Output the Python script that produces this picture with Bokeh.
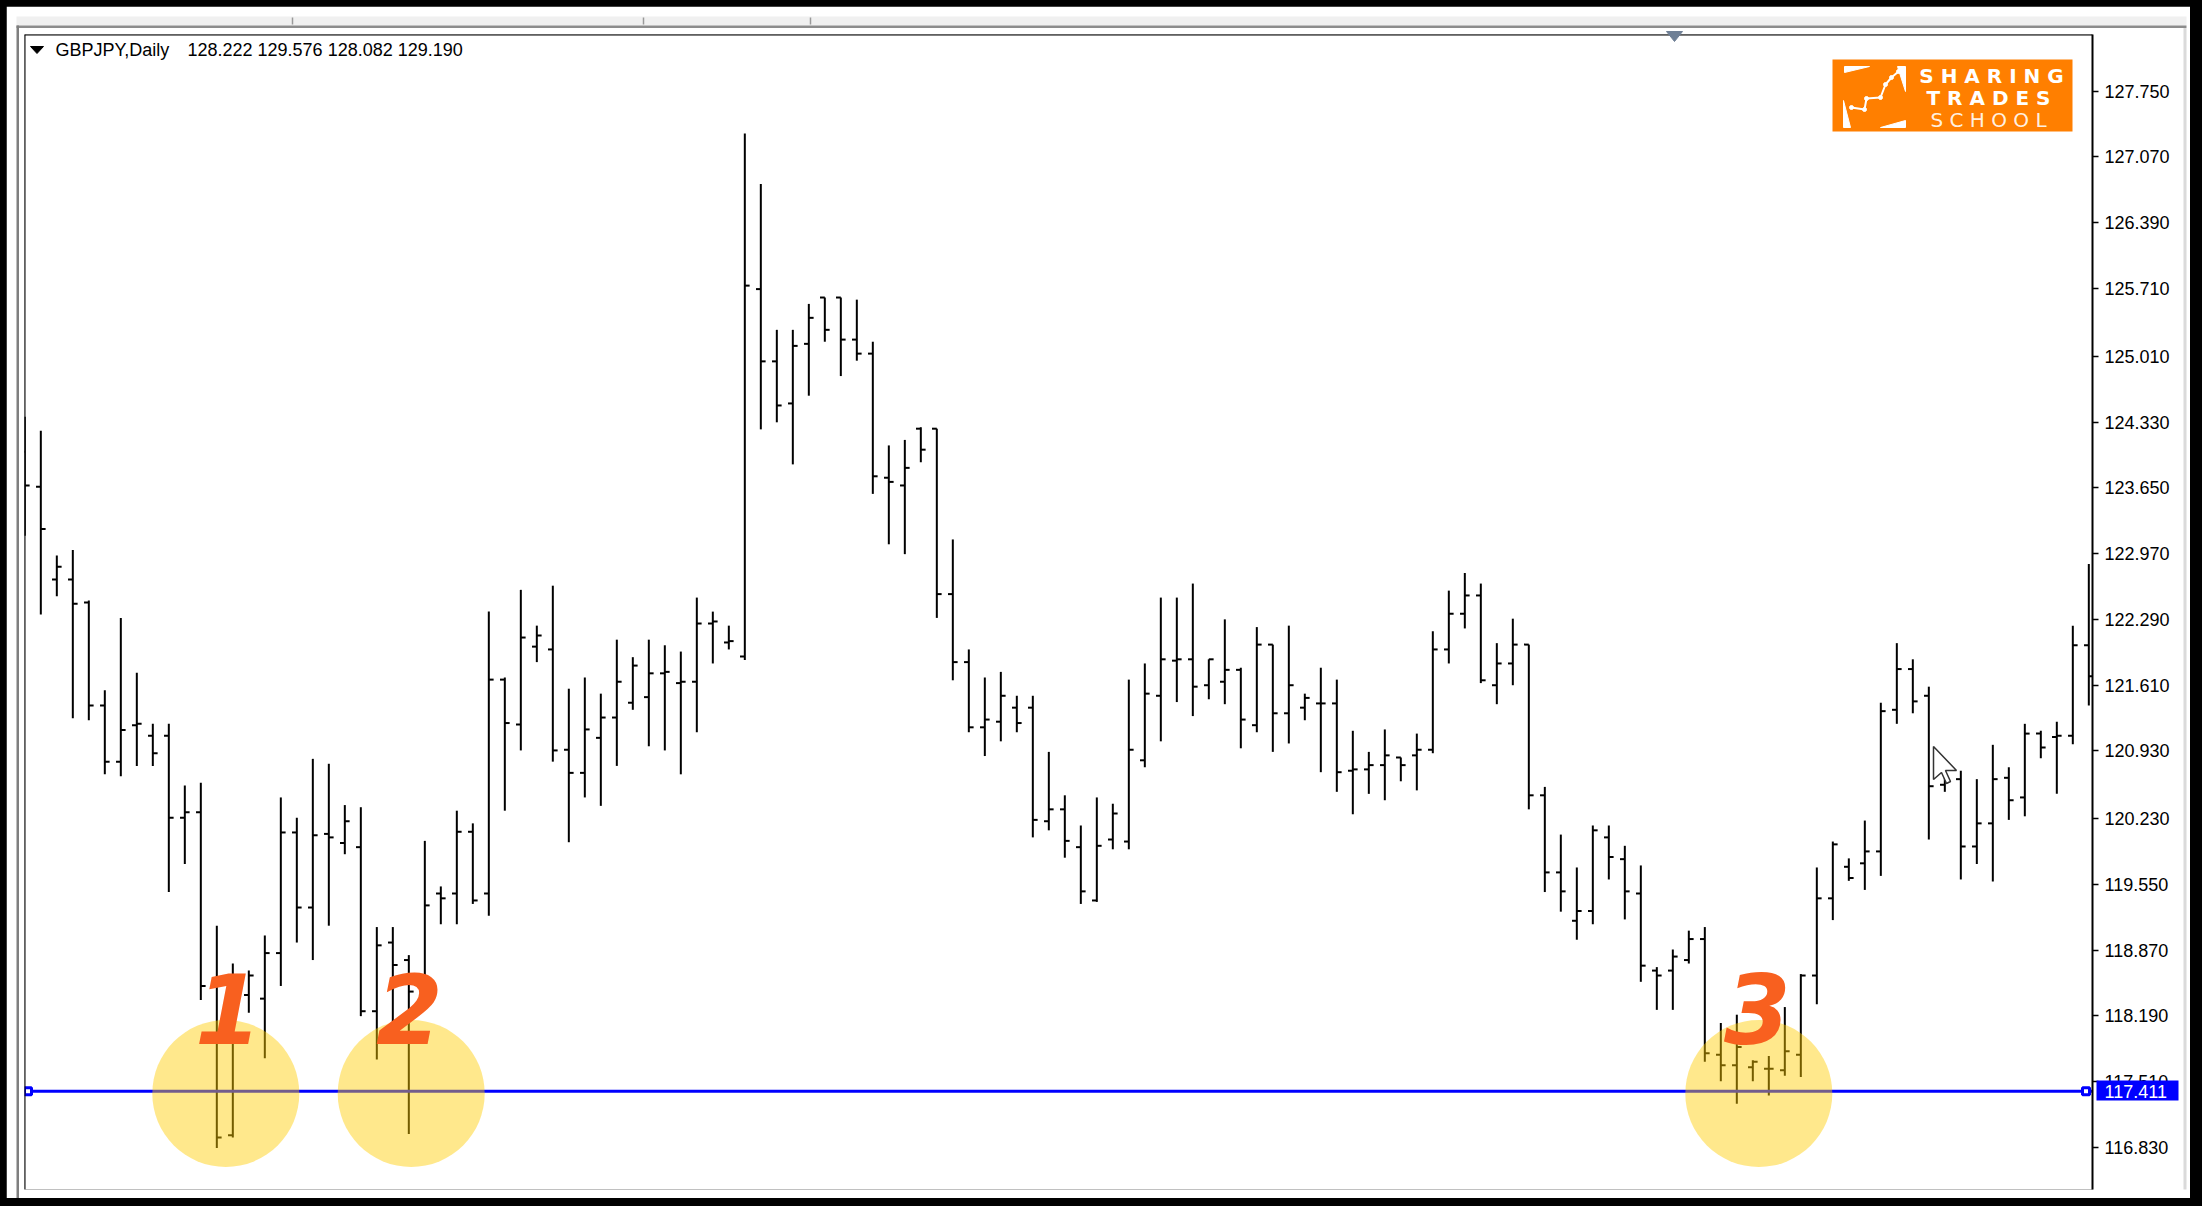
import numpy as np
from bokeh.plotting import figure
from bokeh.layouts import column
from bokeh.models import (FixedTicker, PrintfTickFormatter, Label, Span,
                          ColumnDataSource, Range1d, GlobalInlineStyleSheet)
from bokeh.core.properties import value
from bokeh.embed import file_html
from bokeh.resources import INLINE

# ---------------- data ----------------
symbol = "GBPJPY,Daily"
header_values = "128.222 129.576 128.082 129.190"

opens = [124.022, 123.660, 122.703, 122.703, 122.464, 121.399, 120.819, 121.196, 121.087, 121.087,
         120.239, 120.297, 118.500, 116.956, 118.406, 118.369, 118.840, 120.087, 119.311, 120.072,
         119.978, 119.935, 118.239, 118.949, 118.768, 118.297, 119.456, 119.456, 120.094, 119.456,
         121.667, 121.203, 122.008, 121.979, 120.942, 120.703, 121.065, 121.275, 121.428, 121.486,
         121.732, 121.631, 121.645, 122.247, 122.051, 121.906, 125.704, 124.957, 124.522, 125.138,
         125.617, 125.617, 125.182, 125.037, 123.754, 123.674, 124.261, 124.261, 122.551, 121.848,
         121.174, 121.232, 121.377, 121.377, 120.203, 120.326, 119.935, 119.384, 120.014, 119.993,
         120.833, 121.500, 121.863, 121.877, 121.609, 121.645, 121.768, 121.196, 122.029, 121.319,
         121.377, 121.421, 121.421, 120.725, 120.739, 120.783, 120.862, 120.884, 120.942, 121.979,
         122.348, 122.537, 121.609, 121.834, 122.029, 120.471, 119.674, 119.174, 119.275, 120.036,
         119.811, 119.456, 118.659, 118.659, 118.768, 118.985, 117.790, 117.681, 117.659, 117.645,
         117.630, 117.790, 118.608, 119.406, 119.732, 119.768, 119.891, 121.355, 121.776, 121.500,
         120.580, 120.638, 119.942, 120.181, 120.652, 120.449, 121.109, 121.073, 121.087, 122.022]
highs = [124.385, 124.240, 122.950, 123.008, 122.486, 121.558, 122.305, 121.739, 121.210, 121.210,
         120.573, 120.602, 119.123, 118.732, 118.659, 119.022, 120.449, 120.239, 120.848, 120.797,
         120.370, 120.348, 119.109, 119.109, 118.819, 120.000, 119.529, 120.312, 120.181, 122.370,
         121.689, 122.595, 122.225, 122.638, 121.573, 121.689, 121.522, 122.080, 121.899, 122.080,
         122.022, 121.957, 122.515, 122.370, 122.225, 127.313, 126.791, 125.283, 125.283, 125.551,
         125.617, 125.617, 125.595, 125.160, 124.088, 124.145, 124.276, 124.261, 123.116, 121.979,
         121.689, 121.747, 121.500, 121.500, 120.920, 120.471, 120.159, 120.449, 120.384, 121.667,
         121.834, 122.515, 122.515, 122.660, 121.877, 122.290, 121.790, 122.210, 122.029, 122.225,
         121.522, 121.790, 121.667, 121.138, 120.920, 121.152, 120.862, 121.109, 122.167, 122.587,
         122.769, 122.660, 122.044, 122.297, 122.029, 120.558, 120.065, 119.725, 120.159, 120.159,
         119.949, 119.746, 118.695, 118.877, 119.072, 119.109, 118.116, 118.203, 117.732, 117.775,
         118.282, 118.623, 119.725, 119.993, 119.819, 120.210, 121.428, 122.044, 121.877, 121.594,
         120.761, 120.725, 120.638, 120.993, 120.761, 121.210, 121.138, 121.232, 122.225, 122.863]
lows = [123.153, 122.341, 122.529, 121.268, 121.247, 120.688, 120.667, 120.775, 120.775, 119.471,
        119.761, 118.355, 116.826, 116.934, 118.224, 117.753, 118.500, 118.949, 118.768, 119.123,
        119.862, 118.188, 117.739, 118.094, 116.971, 118.261, 119.138, 119.138, 119.348, 119.225,
        120.312, 120.935, 121.848, 120.819, 119.986, 120.449, 120.362, 120.775, 121.355, 120.978,
        120.935, 120.688, 121.123, 121.834, 121.979, 121.870, 124.254, 124.327, 123.892, 124.602,
        125.160, 124.805, 124.964, 123.587, 123.066, 122.964, 123.914, 122.305, 121.660, 121.123,
        120.877, 121.029, 121.123, 120.036, 120.109, 119.826, 119.348, 119.369, 119.913, 119.913,
        120.761, 121.029, 121.435, 121.290, 121.464, 121.413, 120.957, 121.123, 120.920, 121.007,
        121.247, 120.710, 120.507, 120.275, 120.486, 120.420, 120.616, 120.522, 120.906, 121.834,
        122.196, 121.631, 121.413, 121.609, 120.326, 119.471, 119.268, 118.978, 119.138, 119.601,
        119.188, 118.543, 118.253, 118.253, 118.732, 117.717, 117.514, 117.282, 117.514, 117.369,
        117.572, 117.558, 118.311, 119.181, 119.587, 119.493, 119.638, 121.210, 121.319, 120.014,
        120.507, 119.601, 119.761, 119.580, 120.217, 120.254, 120.855, 120.486, 121.000, 121.399]
closes = [123.674, 123.225, 122.834, 122.450, 121.399, 120.819, 121.145, 121.210, 120.906, 120.239,
          120.297, 118.500, 116.934, 118.369, 118.608, 118.840, 120.087, 119.311, 120.058, 120.036,
          120.203, 118.239, 118.920, 118.717, 118.442, 119.333, 119.406, 120.094, 119.384, 121.667,
          121.218, 122.102, 122.123, 120.935, 120.703, 121.152, 121.275, 121.645, 121.812, 121.732,
          121.747, 121.645, 122.247, 122.268, 122.065, 125.740, 124.957, 124.501, 125.117, 125.407,
          125.283, 125.182, 125.037, 123.769, 123.711, 123.856, 124.044, 122.551, 121.848, 121.174,
          121.254, 121.500, 121.218, 120.217, 120.326, 120.000, 119.478, 119.949, 120.283, 120.942,
          121.522, 121.877, 121.877, 121.594, 121.877, 121.768, 121.254, 122.029, 121.319, 121.609,
          121.478, 121.421, 120.710, 120.739, 120.783, 120.884, 120.783, 120.942, 121.979, 122.348,
          122.537, 121.660, 121.834, 122.029, 120.471, 119.674, 119.478, 119.275, 120.109, 119.833,
          119.478, 118.710, 118.608, 118.804, 118.985, 117.804, 117.681, 117.869, 117.717, 117.645,
          117.826, 118.608, 119.406, 119.964, 119.616, 119.891, 121.341, 121.776, 121.442, 120.565,
          120.631, 119.942, 120.181, 120.638, 120.420, 121.109, 120.964, 121.087, 122.022, 121.703]

price_ticks = [127.750, 127.070, 126.390, 125.710, 125.010, 124.330, 123.650, 122.970, 122.290,
               121.610, 120.930, 120.230, 119.550, 118.870, 118.190, 117.510, 116.830]

support_level = 117.411
touch_labels = ["1", "2", "3"]

# ---------------- geometry (page pixels) ----------------
PAD = 6                      # black window border (body padding)
CW, CH = 2190 - PAD, 1198 - PAD
FL, FR, FT, FB = 24, 2092, 34, 1189
XS, XE = 0.98, 130.23
YS, YE = 116.396, 128.336


def px2x(px):
    return XS + (px - FL) / (FR - FL) * (XE - XS)


def py2y(py):
    return YE - (py - FT) / (FB - FT) * (YE - YS)


p = figure(frame_width=FR - FL, frame_height=FB - FT,
           x_range=Range1d(XS, XE), y_range=Range1d(YS, YE),
           x_axis_location=None, y_axis_location="right",
           toolbar_location=None, output_backend="svg",
           min_border_left=FL - PAD, min_border_top=FT - PAD,
           min_border_right=PAD + CW - FR, min_border_bottom=PAD + CH - FB,
           background_fill_color="white", border_fill_color="white",
           outline_line_color=None)
p.grid.grid_line_color = None
p.frame_align = False

ax = p.yaxis[0]
ax.ticker = FixedTicker(ticks=price_ticks)
ax.formatter = PrintfTickFormatter(format="%.3f")
ax.axis_line_color = "black"
ax.axis_line_width = 2
ax.major_tick_out = 6
ax.major_tick_in = 0
ax.major_tick_line_width = 1.5
ax.minor_tick_out = 0
ax.minor_tick_in = 0
ax.major_label_standoff = 6
ax.major_label_text_font = "Liberation Sans"
ax.major_label_text_font_size = "18px"
ax.major_label_text_color = "black"

p.add_layout(Span(location=XS, dimension="height", line_color="black", line_width=2))
p.add_layout(Span(location=YE, dimension="width", line_color="black", line_width=2))

# ---------------- OHLC bars ----------------
xs = np.arange(1, len(opens) + 1, dtype=float)
src = ColumnDataSource(dict(x=xs, xl=xs - 0.3, xr=xs + 0.3,
                            o=opens, h=highs, l=lows, c=closes))
p.segment(x0="x", y0="l", x1="x", y1="h", line_color="black", line_width=2, source=src)
p.segment(x0="xl", y0="o", x1="x", y1="o", line_color="black", line_width=2, source=src)
p.segment(x0="x", y0="c", x1="xr", y1="c", line_color="black", line_width=2, source=src)

# support line
p.segment(x0=[XS], y0=[support_level], x1=[XE], y1=[support_level],
          line_color="#0000FF", line_width=3)
p.scatter(x=[px2x(27.5), px2x(2085.5)], y=[support_level] * 2, marker="square",
          size=7, line_width=3, line_color="#0000FF", fill_color="white")

# highlight circles and numbers
cx = [px2x(225.3), px2x(410.7), px2x(1758.3)]
p.scatter(x=cx, y=[py2y(1093)] * 3, marker="circle", size=147,
          fill_color="#FFCC00", fill_alpha=0.45, line_color=None)
p.text(x=[px2x(228), px2x(409), px2x(1757)], y=[py2y(1008)] * 3, text=touch_labels,
       text_font=value("DejaVu Sans"), text_font_style="bold italic", text_font_size="96px",
       text_color="#F8601F", text_align="center", text_baseline="alphabetic")

# mouse cursor
tip = (1933, 746)
cur = [(0, 0), (0, 33), (8, 26), (13, 37), (17, 35), (12, 24), (23, 24)]
p.patch(x=[px2x(tip[0] + a) for a, b in cur], y=[py2y(tip[1] + b) for a, b in cur],
        fill_color="white", line_color="#333333", line_width=1.5)

# header
p.patch(x=[px2x(30), px2x(43), px2x(36.5)], y=[py2y(46), py2y(46), py2y(53)], color="black")
p.add_layout(Label(x=XS, y=YE, x_offset=31, y_offset=-15, text=symbol,
                   text_font="Liberation Sans", text_font_size="18px",
                   text_color="#000000", text_baseline="middle"))
p.add_layout(Label(x=XS, y=YE, x_offset=163, y_offset=-15, text=header_values,
                   text_font="Liberation Sans", text_font_size="18px",
                   text_color="#000000", text_baseline="middle"))

# logo
p.quad(left=[px2x(1832)], right=[px2x(2072)], top=[py2y(59)], bottom=[py2y(131)],
       fill_color="#FF7F00", line_color=None)
wedges = [[(1844, 66), (1869, 66), (1844, 72)],
          [(1843, 100), (1843, 127), (1850, 127)],
          [(1880, 127), (1905, 120), (1905, 127)],
          [(1897, 66), (1905, 66), (1905, 91)]]
p.patches(xs=[[px2x(a) for a, b in w] for w in wedges],
          ys=[[py2y(b) for a, b in w] for w in wedges], color="white")
zz = [(1851, 107), (1864, 109), (1866, 98), (1880, 97), (1885, 84), (1891, 77), (1898, 71)]
p.line(x=[px2x(a) for a, b in zz], y=[py2y(b) for a, b in zz], line_color="white", line_width=2)
p.scatter(x=[px2x(a) for a, b in zz], y=[py2y(b) for a, b in zz], size=4, color="white")
p.text(x=[px2x(1991), px2x(1988)], y=[py2y(75), py2y(97.5)],
       text=["S H A R I N G", "T R A D E S"], text_font=value("DejaVu Sans"),
       text_font_style="bold", text_font_size="20px", text_color="white",
       text_align="center", text_baseline="middle")
p.text(x=[px2x(1988)], y=[py2y(119)], text=["S C H O O L"],
       text_font=value("DejaVu Sans"), text_font_size="20px",
       text_color="white", text_alpha=0.9, text_align="center", text_baseline="middle")

# ---------------- transparent overlay for window chrome & price tag ----------------
ov = figure(width=CW, height=CH, x_range=Range1d(PAD, PAD + CW), y_range=Range1d(PAD + CH, PAD),
            x_axis_location=None, y_axis_location=None, toolbar_location=None,
            output_backend="svg", min_border=0, outline_line_color=None,
            background_fill_color=None, border_fill_color=None)
ov.grid.grid_line_color = None
ov.frame_align = False
ov.styles = {"position": "absolute", "left": "0px", "top": "0px", "pointer-events": "none"}
chrome_l = [16, 16, 16, 2183, 2096]
chrome_r = [2186, 2186, 18.5, 2186, 2178]
chrome_t = [16, 25, 25, 27.5, 1080]
chrome_b = [25, 27.5, 1198, 1189, 1100]
chrome_c = ["#F0F0F0", "#8C8C8C", "#7F7F7F", "#DADADA", "#0000FF"]
ov.quad(left=chrome_l, right=chrome_r, top=chrome_t, bottom=chrome_b,
        fill_color=chrome_c, line_color=None)
ov.segment(x0=[292, 643, 810], y0=[17, 17, 17], x1=[292, 643, 810], y1=[24, 24, 24],
           line_color="#9A9A9A", line_width=1.5)
ov.patch(x=[1666, 1682, 1674], y=[31, 31, 41], color="#6F8096")
ov.text(x=[2104], y=[1090.5], text=["%.3f" % support_level], text_font=value("Liberation Sans"),
        text_font_size="18px", text_color="white", text_baseline="middle", text_align="left")

layout = column(p, ov, spacing=0)
layout.styles = {"position": "relative"}
layout.stylesheets = [GlobalInlineStyleSheet(
    css="html { background-color: #000000 !important; } "
        "body { background-color: #000000 !important; padding: %dpx !important; }" % PAD)]

open("out.html", "w").write(file_html(layout, INLINE))
